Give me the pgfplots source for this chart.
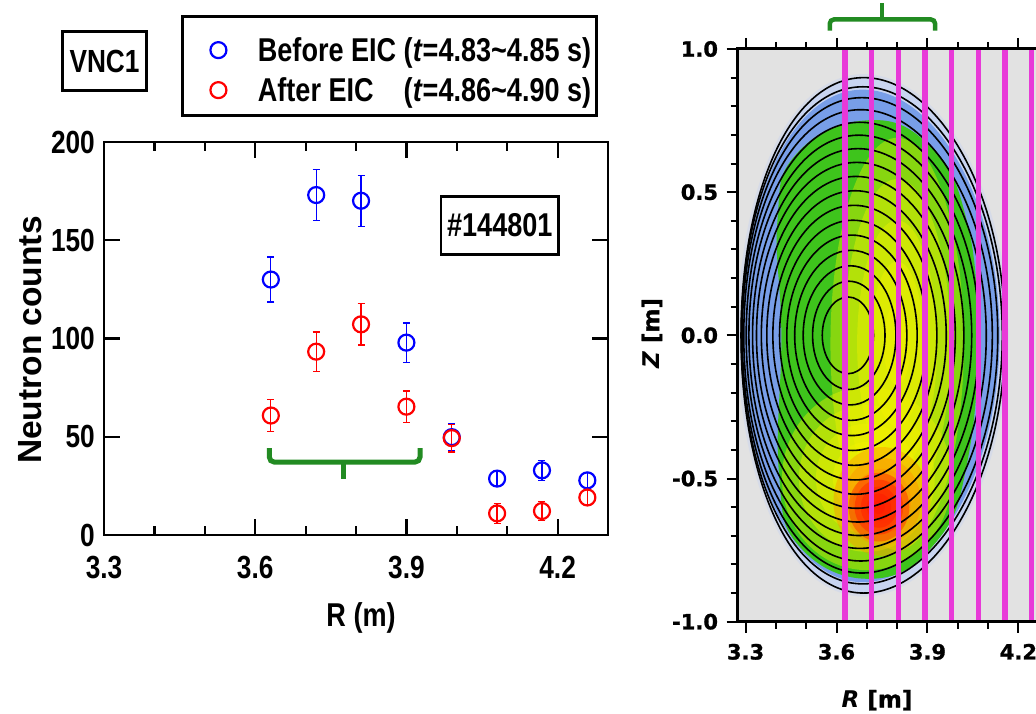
\documentclass[border=0pt]{standalone}
\usepackage{fontspec}
\setmainfont{Liberation Sans}[FakeStretch=0.82]
\newfontfamily\plainsans{Liberation Sans}
\newfontfamily\widesans{DejaVu Sans}[BoldFeatures={FakeBold=1.2}]
\usepackage{pgfplots}
\usepackage{pgfplotstable}
\pgfplotsset{compat=1.18}

\definecolor{bracketgreen}{RGB}{34,139,34}
\definecolor{chord}{RGB}{232,58,216}
\definecolor{bggray}{RGB}{226,226,226}
\definecolor{haloblue}{RGB}{200,212,240}
\definecolor{plasmablue}{RGB}{120,158,232}
\definecolor{plasmagreen}{RGB}{62,196,28}
\definecolor{plasmayellow}{RGB}{245,242,0}
\definecolor{plasmaorange}{RGB}{255,140,0}
\definecolor{plasmared}{RGB}{255,20,0}

% soft emission blob: colour, R, Z, R-radius, Z-radius (axis units)
\newcommand\emissionblob[5]{%
  \pgfplotsinvokeforeach{1.0,0.8,0.6,0.4,0.2}{%
    \fill[#1, fill opacity=0.4] (#2,#3) ellipse [x radius=##1*#4, y radius=##1*#5];}}

% VNC1 neutron counts per sight line
\pgfplotstableread{
R      before  ebefore  after  eafter
3.631  130.0   11.5     60.8   8.0
3.721  173.0   13.0     93.3   10.0
3.810  170.1   13.0     107.2  10.5
3.900  97.9    10.0     65.3   8.0
3.990  49.8    7.0      49.3   7.0
4.080  28.7    4.0      11.0   5.0
4.169  32.9    5.0      12.2   5.0
4.259  27.8    4.0      19.1   4.0
}\vncdata

\pgfplotsset{flux/.style={black, line width=1.6pt, smooth cycle, tension=1, forget plot}}

\begin{document}
\begin{tikzpicture}
\useasboundingbox (0,0) rectangle (1036pt,714pt);

% ---------------- neutron profile ----------------
\begin{axis}[
  at={(104pt,179pt)}, anchor=south west, scale only axis,
  width=504pt, height=393pt,
  xmin=3.3, xmax=4.3, ymin=0, ymax=200,
  xtick={3.3,3.6,3.9,4.2}, xticklabels={3.3,3.6,3.9,4.2},
  minor xtick={3.4,3.5,3.7,3.8,4.0,4.1},
  ytick={0,50,100,150,200}, yticklabels={0,50,100,150,200},
  tick align=inside,
  major tick length=16pt, minor tick length=9pt,
  tick style={line width=2.2pt, black},
  axis line style={line width=2.8pt},
  tick label style={font=\bfseries\fontsize{32}{32}\selectfont, inner sep=0pt},
  xticklabel style={anchor=north, yshift=-21pt},
  yticklabel style={anchor=east, xshift=-9pt},
  xlabel={R (m)},
  xlabel style={at={(axis description cs:0.51,-0.211)}, anchor=center,
    font=\bfseries\fontsize{33}{33}\selectfont},
  ylabel={Neutron counts},
  ylabel style={at={(axis description cs:-0.147,0.496)}, anchor=center,
    font=\plainsans\bfseries\fontsize{33.5}{34}\selectfont},
  legend style={at={(axis description cs:0.1528,1.3232)}, anchor=north west,
    draw=black, line width=2.8pt, inner xsep=5pt, inner ysep=2pt,
    row sep=-15.5pt, column sep=30pt,
    font=\bfseries\fontsize{33}{33}\selectfont,
    nodes={inner sep=0pt, text height=23.6pt, text depth=0pt}},
  legend cell align=left,
  legend image code/.code={%
    \path[draw=none, fill=none] (-31pt,-23.75pt) rectangle (9.5pt,31.75pt);
    \draw[#1] plot coordinates {(0pt,0pt)};},
]
\addplot[blue, only marks, mark=o, mark size=8pt, line width=2.2pt,
  error bars/y dir=both, error bars/y explicit,
  error bars/error bar style={line width=1.3pt},
  error bars/error mark options={rotate=90, mark size=3.5pt, line width=1.3pt}]
  table[x=R, y=before, y error=ebefore] {\vncdata};
\addlegendentry{Before EIC (\textit{t}=4.83\textasciitilde 4.85 s)}
\addplot[red, only marks, mark=o, mark size=8pt, line width=2.2pt,
  error bars/y dir=both, error bars/y explicit,
  error bars/error bar style={line width=1.3pt},
  error bars/error mark options={rotate=90, mark size=3.5pt, line width=1.3pt}]
  table[x=R, y=after, y error=eafter] {\vncdata};
\addlegendentry{\rlap{After EIC}\hphantom{Before EIC }(\textit{t}=4.86\textasciitilde 4.90 s)}
% bracket over the four central chords
\addplot[bracketgreen, line width=5pt, rounded corners=5pt, forget plot]
  coordinates {(3.628,44.2) (3.628,37.1) (3.927,37.1) (3.927,44.2)};
\addplot[bracketgreen, line width=5pt, forget plot]
  coordinates {(3.776,37.1) (3.776,28.7)};
\end{axis}

\node[draw, line width=2.8pt, minimum width=83.5pt, minimum height=58.5pt,
  inner sep=0pt, font=\bfseries\fontsize{32}{32}\selectfont] at (104.5pt,653pt) {VNC1};
\node[draw, line width=2.8pt, minimum width=117.6pt, minimum height=58.2pt,
  inner sep=0pt, font=\bfseries\fontsize{33}{33}\selectfont] at (499.8pt,488.5pt) {\#144801};

% ---------------- poloidal cross-section ----------------
\begin{axis}[
  at={(737.7pt,92.3pt)}, anchor=south west, scale only axis,
  width=311pt, height=572.7pt,
  xmin=3.274, xmax=4.3, ymin=-1, ymax=1,
  clip=false, axis on top,
  axis background/.style={fill=bggray},
  xtick={3.3,3.6,3.9,4.2}, xticklabels={3.3,3.6,3.9,4.2},
  minor xtick={3.4,3.5,3.7,3.8,4.0,4.1},
  ytick={-1,-0.5,0,0.5,1}, yticklabels={-1.0,-0.5,0.0,0.5,1.0},
  minor y tick num=4,
  tick align=outside, major tick length=11pt, minor tick length=7pt,
  tick style={line width=2pt, black},
  axis line style={line width=3pt},
  tick label style={font=\widesans\bfseries\fontsize{21}{21}\selectfont, inner sep=0pt},
  xticklabel style={anchor=north, yshift=-11pt},
  yticklabel style={anchor=east, xshift=-8.5pt},
  xlabel={\textit{R} [m]}, ylabel={\textit{Z} [m]},
  label style={font=\widesans\bfseries\fontsize{23}{23}\selectfont},
  xlabel style={at={(axis description cs:0.448,-0.137)}, anchor=center},
  ylabel style={at={(axis description cs:-0.2756,0.504)}, anchor=center},
]
% emission map
\addplot[draw=haloblue, line width=7pt, draw opacity=0.45, fill=haloblue,
  smooth cycle, tension=1, forget plot]
  coordinates {(3.285,0) (3.690,0.900) (4.156,0) (3.690,-0.900)};
\addplot[draw=none, fill=plasmablue, smooth cycle, tension=1, forget plot]
  coordinates {(3.288,0) (3.687,0.858) (4.138,0) (3.687,-0.862)};
\addplot[draw=none, fill=plasmagreen, smooth cycle, tension=0.75, forget plot]
  coordinates {(3.418,0) (3.405,0.40) (3.465,0.63) (3.690,0.750) (3.900,0.67)
               (4.025,0.42) (4.065,0) (4.030,-0.45) (3.930,-0.72) (3.720,-0.850)
               (3.480,-0.74) (3.410,-0.48)};
\emissionblob{plasmayellow}{3.80}{-0.03}{0.22}{0.72}
\emissionblob{plasmayellow}{3.70}{-0.50}{0.28}{0.32}
\emissionblob{plasmaorange}{3.75}{-0.58}{0.16}{0.19}
\emissionblob{plasmared}{3.74}{-0.60}{0.10}{0.12}
% flux surfaces: inner left edge, top, outer right edge, bottom
\addplot[flux] coordinates {(3.553,0) (3.638,0.134) (3.722,0) (3.638,-0.134)};
\addplot[flux] coordinates {(3.521,0) (3.641,0.189) (3.760,0) (3.641,-0.189)};
\addplot[flux] coordinates {(3.490,0) (3.645,0.243) (3.796,0) (3.645,-0.243)};
\addplot[flux] coordinates {(3.462,0) (3.648,0.297) (3.832,0) (3.648,-0.297)};
\addplot[flux] coordinates {(3.436,0) (3.651,0.350) (3.866,0) (3.651,-0.350)};
\addplot[flux] coordinates {(3.412,0) (3.654,0.402) (3.899,0) (3.654,-0.402)};
\addplot[flux] coordinates {(3.390,0) (3.658,0.454) (3.931,0) (3.658,-0.454)};
\addplot[flux] coordinates {(3.370,0) (3.661,0.505) (3.962,0) (3.661,-0.505)};
\addplot[flux] coordinates {(3.352,0) (3.664,0.555) (3.992,0) (3.664,-0.555)};
\addplot[flux] coordinates {(3.336,0) (3.667,0.604) (4.020,0) (3.667,-0.604)};
\addplot[flux] coordinates {(3.323,0) (3.671,0.652) (4.046,0) (3.671,-0.652)};
\addplot[flux] coordinates {(3.311,0) (3.674,0.699) (4.071,0) (3.674,-0.699)};
\addplot[flux] coordinates {(3.302,0) (3.677,0.744) (4.094,0) (3.677,-0.744)};
\addplot[flux] coordinates {(3.294,0) (3.680,0.788) (4.114,0) (3.680,-0.788)};
\addplot[flux] coordinates {(3.289,0) (3.684,0.830) (4.132,0) (3.684,-0.830)};
\addplot[flux] coordinates {(3.286,0) (3.687,0.868) (4.147,0) (3.687,-0.868)};
\addplot[flux] coordinates {(3.285,0) (3.690,0.900) (4.156,0) (3.690,-0.900)};
% neutron collimator sight lines
\pgfplotsinvokeforeach{3.628,3.716,3.804,3.892,3.980,4.068,4.156,4.244}{
  \addplot[chord, line width=5.5pt, forget plot] coordinates {(#1,-1) (#1,1)};
}
% bracket over the first four sight lines
\addplot[bracketgreen, line width=4.5pt, rounded corners=4pt, forget plot]
  coordinates {(3.578,1.064) (3.578,1.103) (3.925,1.103) (3.925,1.064)};
\addplot[bracketgreen, line width=4.5pt, forget plot]
  coordinates {(3.750,1.103) (3.750,1.159)};
\end{axis}
\end{tikzpicture}
\end{document}
